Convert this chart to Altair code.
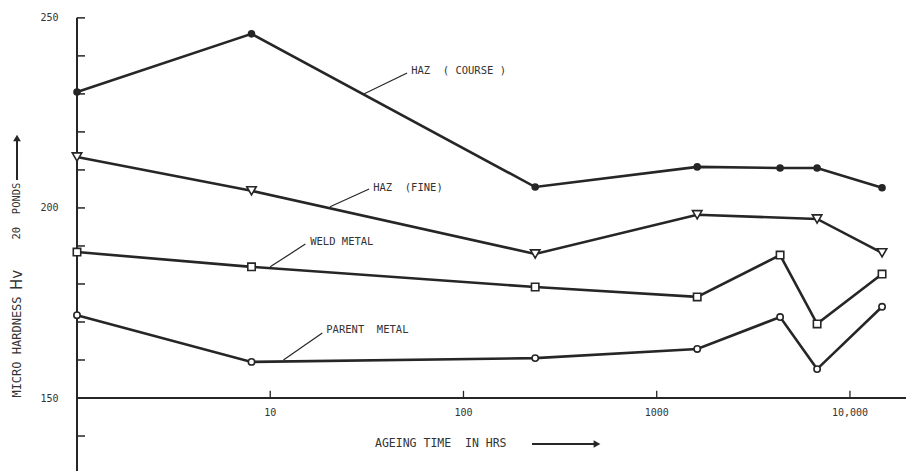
import altair as alt
import pandas as pd

# ---- data ----
times_all = [1, 8, 235, 1620, 4350, 6760, 14660]
times_fine = [1, 8, 235, 1620, 6760, 14660]
haz_course = [230.5, 245.8, 205.5, 210.8, 210.5, 210.5, 205.3]
haz_fine = [213.4, 204.5, 187.9, 198.2, 197.1, 188.2]
weld_metal = [188.4, 184.5, 179.2, 176.6, 187.6, 169.5, 182.6]
parent_metal = [171.8, 159.5, 160.5, 162.9, 171.3, 157.6, 174.0]

x_tick_values = [10, 100, 1000, 10000]
x_tick_labels = ["10", "100", "1000", "10,000"]
y_label_values = [150, 200, 250]
y_minor_ticks = list(range(140, 251, 10))

NB = "\u00a0"
# annotation labels (text anchor and leader line ends, in data units)
ann_text = ["HAZ" + NB * 2 + "(" + NB + "COURSE" + NB + ")", "HAZ" + NB * 2 + "(FINE)",
            "WELD" + NB + "METAL", "PARENT" + NB * 2 + "METAL"]
ann_t = [53.6, 34.1, 16.1, 19.5]
ann_v = [236.1, 205.3, 191.1, 167.9]
lead_t1 = [30.3, 20.4, 10.0, 11.7]
lead_v1 = [229.9, 200.3, 184.5, 160.0]
lead_t2 = [51.1, 32.5, 15.2, 18.6]
lead_v2 = [235.5, 205.0, 190.5, 167.1]

# ---- tables ----
rows = []
for name, ts, vs in [("course", times_all, haz_course), ("fine", times_fine, haz_fine),
                     ("weld", times_all, weld_metal), ("parent", times_all, parent_metal)]:
    for t, v in zip(ts, vs):
        rows.append({"series": name, "t": t, "v": v})
df = pd.DataFrame(rows)

W, H = 829, 471
INK = "#262626"
FONT = "DejaVu Sans Mono"
TXT = "#333"

xs = alt.Scale(type="log", domain=[1, 19500], nice=False)
ys = alt.Scale(domain=[130.8, 254.7], nice=False, zero=False)
X = alt.X("t:Q", scale=xs, axis=None)
Y = alt.Y("v:Q", scale=ys, axis=alt.Axis(values=y_label_values, domain=False, ticks=False, grid=False,
                                          labelPadding=19, labelFontSize=10, labelFont=FONT,
                                          labelColor=TXT, title=None))

lines = alt.Chart(df).mark_line(color=INK, strokeWidth=2.6).encode(
    x=X, y=Y, detail="series:N", order="t:Q")

def pts(name, shape, size, filled):
    return alt.Chart(df).transform_filter(alt.datum.series == name).mark_point(
        shape=shape, size=size, filled=True, fill=INK if filled else "white",
        stroke=INK, strokeWidth=1.6, opacity=1).encode(x=X, y=Y)

p_course = pts("course", "circle", 36, True)
p_fine = pts("fine", "triangle-down", 90, False)
p_weld = pts("weld", "square", 55, False)
p_parent = pts("parent", "circle", 40, False)

# axes drawn by hand (ticks point inward, x-axis sits at 150)
yaxis = alt.Chart(pd.DataFrame({"v": [250], "v2": [130.8]})).mark_rule(color=INK, strokeWidth=2).encode(
    x=alt.value(0), y=Y, y2="v2:Q")
xaxis = alt.Chart(pd.DataFrame({"v": [150]})).mark_rule(color=INK, strokeWidth=2).encode(
    x=alt.value(0), x2=alt.value(W), y=Y)
yticks = alt.Chart(pd.DataFrame({"v": y_minor_ticks})).mark_rule(color=INK, strokeWidth=1.5).encode(
    x=alt.value(0), x2=alt.value(8), y=Y)
xticks = alt.Chart(pd.DataFrame({"t": x_tick_values, "v": [150] * 4, "v2": [151.9] * 4})).mark_rule(
    color=INK, strokeWidth=1.3).encode(x=X, y=Y, y2="v2:Q")
xlabels = alt.Chart(pd.DataFrame({"t": x_tick_values, "v": [150] * 4, "lab": x_tick_labels})).mark_text(
    dy=15, fontSize=10, font=FONT, color=TXT).encode(x=X, y=Y, text="lab:N")

ann_df = pd.DataFrame({"t": ann_t, "v": ann_v, "txt": ann_text})
ann = alt.Chart(ann_df).mark_text(align="left", baseline="middle", fontSize=10.5, font=FONT,
                                  color=TXT).encode(x=X, y=Y, text="txt:N")
lead_df = pd.DataFrame({"t": lead_t1, "v": lead_v1, "t2": lead_t2, "v2": lead_v2})
leads = alt.Chart(lead_df).mark_rule(color=INK, strokeWidth=1.2).encode(x=X, y=Y, x2="t2:Q", y2="v2:Q")

# axis titles and arrows
one = pd.DataFrame({"a": [0]})
xtitle = alt.Chart(one).mark_text(align="left", baseline="middle", fontSize=11.5,
                                  font=FONT, color=TXT).encode(
    x=alt.value(298), y=alt.value(444),
    text=alt.value("AGEING" + NB + "TIME" + NB * 2 + "IN" + NB + "HRS"))
xarrow = alt.Chart(one).mark_rule(color=INK, strokeWidth=2.2).encode(
    x=alt.value(455), x2=alt.value(518), y=alt.value(444))
xhead = alt.Chart(one).mark_point(shape="triangle-right", filled=True, size=60,
                                  color=INK, opacity=1).encode(x=alt.value(520), y=alt.value(444))

ytitle1 = alt.Chart(one).mark_text(angle=270, align="center", baseline="middle",
                                   fontSize=12, font=FONT, color=TXT).encode(
    x=alt.value(-60), y=alt.value(347), text=alt.value("MICRO" + NB + "HARDNESS"))
ytitle2 = alt.Chart(one).mark_text(angle=270, align="center", baseline="middle",
                                   fontSize=15, font="DejaVu Sans", color=TXT).encode(
    x=alt.value(-60), y=alt.value(280), text=alt.value("Hv"))
ytitle3 = alt.Chart(one).mark_text(angle=270, align="center", baseline="middle",
                                   fontSize=10.5, font=FONT, color=TXT).encode(
    x=alt.value(-60), y=alt.value(211), text=alt.value("20" + NB * 2 + "PONDS"))
yarrow = alt.Chart(one).mark_rule(color=INK, strokeWidth=2).encode(
    x=alt.value(-60), y=alt.value(180), y2=alt.value(140))
yhead = alt.Chart(one).mark_point(shape="triangle-up", filled=True, size=60,
                                  color=INK, opacity=1).encode(x=alt.value(-60), y=alt.value(138))

chart = alt.layer(
    yaxis, xaxis, yticks, xticks, xlabels, leads, lines, p_course, p_fine, p_weld, p_parent,
    ann, xtitle, xarrow, xhead, ytitle1, ytitle2, ytitle3, yarrow, yhead
).properties(
    width=W, height=H,
    autosize=alt.AutoSizeParams(type="none"),
    padding={"left": 77, "top": 0, "right": 0, "bottom": 0},
    background="white",
).configure_view(stroke=None)

chart.save("out.html", embed_options={"renderer": "svg", "actions": False})
